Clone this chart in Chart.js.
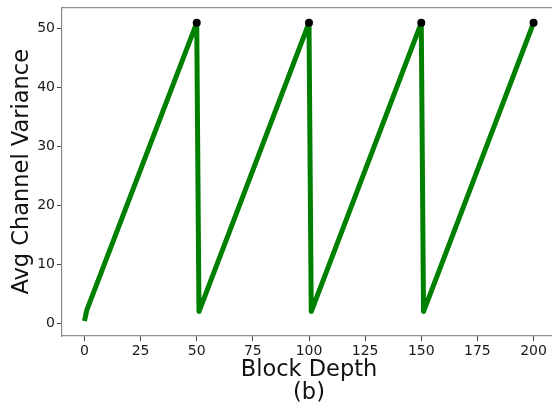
<!DOCTYPE html>
<html>
<head>
<meta charset="utf-8">
<script src="https://cdn.jsdelivr.net/npm/chart.js@4.4.1/dist/chart.umd.min.js"></script>
<style>
  html, body { margin: 0; padding: 0; background: #fff; overflow: hidden; }
  #wrap { width: 552px; height: 405px; overflow: hidden; }
</style>
</head>
<body>
<div id="wrap"><canvas id="myChart" width="560" height="405"></canvas></div>
<script>
// block depth vs. average channel variance (corners of the sawtooth)
let depth = [0, 1, 50, 51, 100, 101, 150, 151, 200];
let variance = [0.4, 2.2, 51, 2, 51, 2, 51, 2, 51];

// peaks right before each reset
let peakDepth = [50, 100, 150, 200];
let peakVariance = [51, 51, 51, 51];

// tick labels
let xTicks = [0, 25, 50, 75, 100, 125, 150, 175, 200];
let yTicks = [0, 10, 20, 30, 40, 50];

let font = "'DejaVu Sans', sans-serif";
let spine = '#8c8c8c';

function toPoints(xs, ys) {
  return xs.map((x, i) => ({ x: x, y: ys[i] }));
}

// fixed axis sizes, no extra room for overhanging tick labels
function noPad(s) {
  s.paddingTop = 0;
  s.paddingBottom = 0;
  s.paddingLeft = 0;
  s.paddingRight = 0;
}

let ctx = document.getElementById('myChart').getContext('2d');
let myChart = new Chart(ctx, {
  type: 'scatter',
  data: {
    datasets: [
      {
        data: toPoints(depth, variance),
        showLine: true,
        borderColor: '#008000',
        backgroundColor: '#008000',
        borderWidth: 5,
        borderJoinStyle: 'round',
        borderCapStyle: 'butt',
        pointRadius: 0,
        tension: 0,
        order: 2
      },
      {
        data: toPoints(peakDepth, peakVariance),
        showLine: false,
        pointRadius: 4,
        pointBackgroundColor: '#000',
        pointBorderWidth: 0,
        order: 1
      }
    ]
  },
  options: {
    responsive: false,
    animation: false,
    layout: { padding: { right: 2.5 } },
    plugins: { legend: { display: false }, tooltip: { enabled: false } },
    scales: {
      x: {
        type: 'linear',
        position: 'bottom',
        min: -10,
        max: 210,
        afterBuildTicks: s => { s.ticks = xTicks.map(v => ({ value: v })); },
        afterFit: s => { s.height = 69; noPad(s); },
        grid: { drawOnChartArea: false, drawTicks: true, tickLength: 5, color: '#444' },
        border: { display: true, color: spine, width: 1.2 },
        ticks: { font: { family: font, size: 14 }, color: '#1a1a1a', padding: 2, maxRotation: 0 },
        title: {
          display: true,
          text: ['Block Depth', '(b)'],
          font: { family: font, size: 22.5, lineHeight: 1.0 },
          color: '#111',
          padding: { top: 0, bottom: 1 }
        }
      },
      top: {
        type: 'linear',
        position: 'top',
        afterFit: s => { s.height = 7.5; noPad(s); },
        grid: { display: false },
        ticks: { display: false },
        border: { display: true, color: spine, width: 1.2 }
      },
      y: {
        type: 'linear',
        min: -2.15,
        max: 53.6,
        afterBuildTicks: s => { s.ticks = yTicks.map(v => ({ value: v })); },
        afterFit: s => { s.width = 62; noPad(s); },
        grid: { drawOnChartArea: false, drawTicks: true, tickLength: 5, color: '#444' },
        border: { display: true, color: spine, width: 1.2 },
        ticks: { font: { family: font, size: 14 }, color: '#1a1a1a', padding: 2 },
        title: {
          display: true,
          text: 'Avg Channel Variance',
          font: { family: font, size: 22.5, lineHeight: 1.0 },
          color: '#111',
          padding: { top: 11, bottom: 0 }
        }
      }
    }
  }
});
</script>
</body>
</html>
